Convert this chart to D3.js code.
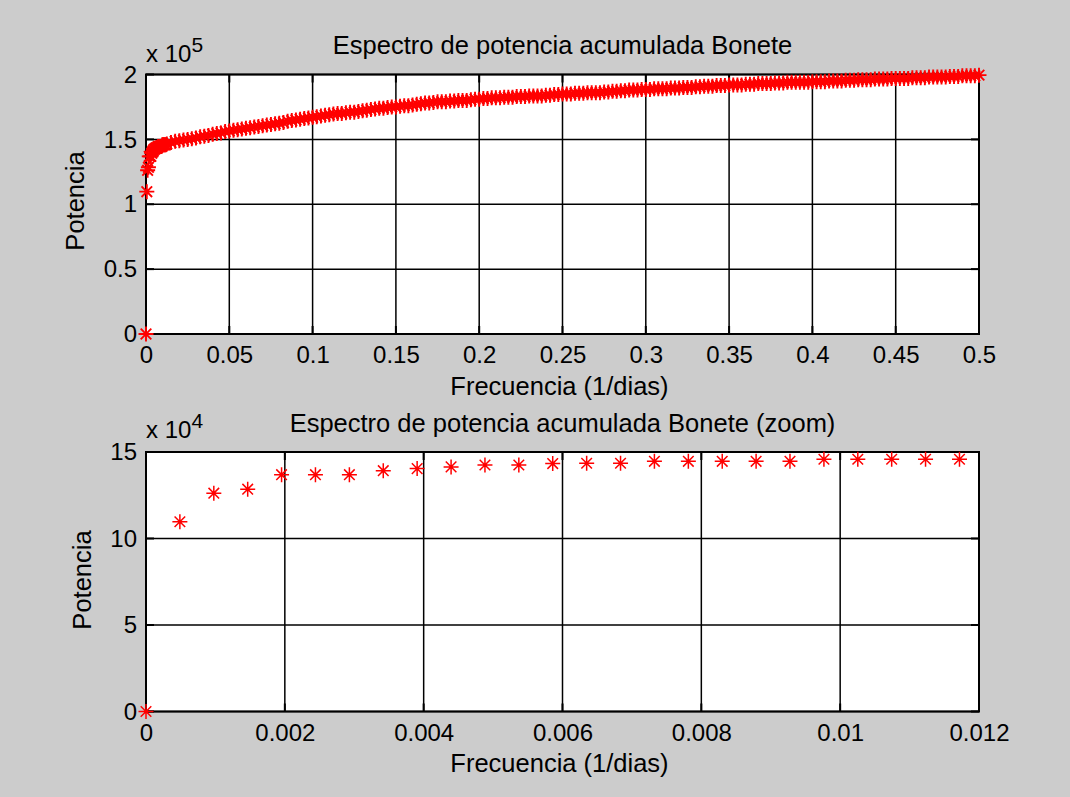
<!DOCTYPE html>
<html><head><meta charset="utf-8">
<script src="https://cdn.jsdelivr.net/npm/d3@7"></script>
<style>
body{margin:0;background:#cccccc;}
svg{display:block;}
text{font-family:"Liberation Sans",Arial,sans-serif;fill:#000;}
</style>
</head><body>
<svg id="chart" width="1070" height="797"></svg>
<script>
// ---------- DATA ----------
// Low-frequency samples (shown in zoom panel and at the start of the top panel)
const zoomFreq = [0, 0.000488, 0.000977, 0.001465, 0.001953, 0.002441, 0.00293, 0.003418, 0.003906,
  0.004395, 0.004883, 0.005371, 0.005859, 0.006348, 0.006836, 0.007324, 0.007813, 0.008301,
  0.008789, 0.009277, 0.009766, 0.010254, 0.010742, 0.01123, 0.011719];
const zoomPower = [0, 109700, 126200, 128500, 136900, 136900, 136900, 139200, 140400,
  141400, 142500, 142500, 143300, 143500, 143500, 144600, 144600, 144600,
  144600, 144600, 145800, 145800, 145800, 145800, 145800];

// Remaining samples of the top panel
const topFreq = [
  0.0125,0.015,0.0175,0.02,0.0225,0.025,0.0275,0.03,0.0325,0.035,
  0.0375,0.04,0.0425,0.045,0.0475,0.05,0.0525,0.055,0.0575,0.06,
  0.0625,0.065,0.0675,0.07,0.0725,0.075,0.0775,0.08,0.0825,0.085,
  0.0875,0.09,0.0925,0.095,0.0975,0.1,0.1025,0.105,0.1075,0.11,
  0.1125,0.115,0.1175,0.12,0.1225,0.125,0.1275,0.13,0.1325,0.135,
  0.1375,0.14,0.1425,0.145,0.1475,0.15,0.1525,0.155,0.1575,0.16,
  0.1625,0.165,0.1675,0.17,0.1725,0.175,0.1775,0.18,0.1825,0.185,
  0.1875,0.19,0.1925,0.195,0.1975,0.2,0.2025,0.205,0.2075,0.21,
  0.2125,0.215,0.2175,0.22,0.2225,0.225,0.2275,0.23,0.2325,0.235,
  0.2375,0.24,0.2425,0.245,0.2475,0.25,0.2525,0.255,0.2575,0.26,
  0.2625,0.265,0.2675,0.27,0.2725,0.275,0.2775,0.28,0.2825,0.285,
  0.2875,0.29,0.2925,0.295,0.2975,0.3,0.3025,0.305,0.3075,0.31,
  0.3125,0.315,0.3175,0.32,0.3225,0.325,0.3275,0.33,0.3325,0.335,
  0.3375,0.34,0.3425,0.345,0.3475,0.35,0.3525,0.355,0.3575,0.36,
  0.3625,0.365,0.3675,0.37,0.3725,0.375,0.3775,0.38,0.3825,0.385,
  0.3875,0.39,0.3925,0.395,0.3975,0.4,0.4025,0.405,0.4075,0.41,
  0.4125,0.415,0.4175,0.42,0.4225,0.425,0.4275,0.43,0.4325,0.435,
  0.4375,0.44,0.4425,0.445,0.4475,0.45,0.4525,0.455,0.4575,0.46,
  0.4625,0.465,0.4675,0.47,0.4725,0.475,0.4775,0.48,0.4825,0.485,
  0.4875,0.49,0.4925,0.495,0.4975,0.5];
const topPower = [
  1.465e5,1.475e5,1.485e5,1.49e5,1.495e5,1.50e5,1.505e5,1.51e5,1.52e5,1.525e5,
  1.53e5,1.54e5,1.545e5,1.55e5,1.56e5,1.565e5,1.57e5,1.575e5,1.58e5,1.585e5,
  1.59e5,1.595e5,1.60e5,1.605e5,1.61e5,1.615e5,1.62e5,1.625e5,1.63e5,1.64e5,
  1.645e5,1.65e5,1.655e5,1.66e5,1.665e5,1.67e5,1.675e5,1.68e5,1.685e5,1.69e5,
  1.695e5,1.70e5,1.70e5,1.705e5,1.71e5,1.71e5,1.715e5,1.72e5,1.725e5,1.73e5,
  1.735e5,1.74e5,1.74e5,1.745e5,1.75e5,1.75e5,1.755e5,1.76e5,1.76e5,1.765e5,
  1.77e5,1.775e5,1.78e5,1.78e5,1.785e5,1.79e5,1.79e5,1.79e5,1.795e5,1.795e5,
  1.80e5,1.80e5,1.80e5,1.805e5,1.81e5,1.81e5,1.815e5,1.815e5,1.82e5,1.82e5,
  1.82e5,1.825e5,1.825e5,1.825e5,1.83e5,1.83e5,1.83e5,1.835e5,1.835e5,1.835e5,
  1.835e5,1.84e5,1.84e5,1.845e5,1.845e5,1.85e5,1.85e5,1.85e5,1.855e5,1.855e5,
  1.855e5,1.86e5,1.86e5,1.86e5,1.86e5,1.865e5,1.865e5,1.87e5,1.87e5,1.875e5,
  1.875e5,1.88e5,1.88e5,1.88e5,1.885e5,1.885e5,1.885e5,1.89e5,1.89e5,1.89e5,
  1.89e5,1.895e5,1.895e5,1.895e5,1.90e5,1.90e5,1.90e5,1.905e5,1.905e5,1.91e5,
  1.91e5,1.91e5,1.915e5,1.915e5,1.915e5,1.92e5,1.92e5,1.92e5,1.92e5,1.925e5,
  1.925e5,1.925e5,1.93e5,1.93e5,1.93e5,1.93e5,1.935e5,1.935e5,1.935e5,1.94e5,
  1.94e5,1.94e5,1.94e5,1.94e5,1.94e5,1.945e5,1.945e5,1.945e5,1.945e5,1.95e5,
  1.95e5,1.95e5,1.95e5,1.955e5,1.955e5,1.955e5,1.96e5,1.96e5,1.96e5,1.96e5,
  1.965e5,1.965e5,1.965e5,1.965e5,1.97e5,1.97e5,1.97e5,1.97e5,1.97e5,1.975e5,
  1.975e5,1.975e5,1.975e5,1.98e5,1.98e5,1.98e5,1.98e5,1.98e5,1.985e5,1.985e5,
  1.985e5,1.99e5,1.99e5,1.99e5,1.99e5,1.995e5];

// Tick values and labels
const topXTicks = [0,0.05,0.1,0.15,0.2,0.25,0.3,0.35,0.4,0.45,0.5];
const topXLabels = ["0","0.05","0.1","0.15","0.2","0.25","0.3","0.35","0.4","0.45","0.5"];
const topYTicks = [0,50000,100000,150000,200000];
const topYLabels = ["0","0.5","1","1.5","2"];
const botXTicks = [0,0.002,0.004,0.006,0.008,0.01,0.012];
const botXLabels = ["0","0.002","0.004","0.006","0.008","0.01","0.012"];
const botYTicks = [0,50000,100000,150000];
const botYLabels = ["0","5","10","15"];

const titles = ["Espectro de potencia acumulada Bonete", "Espectro de potencia acumulada Bonete (zoom)"];
const xLabelText = "Frecuencia (1/dias)";
const yLabelText = "Potencia";

// ---------- DRAW ----------
const svg = d3.select("#chart");
svg.append("rect").attr("width",1070).attr("height",797).attr("fill","#cccccc");

const FS = 24;     // tick labels
const FL = 25.5;   // titles and axis labels
const starPath = "M-7.5,0H7.5M0,-7.5V7.5M-5.3,-5.3L5.3,5.3M-5.3,5.3L5.3,-5.3";

function panel(cfg){
  const {left,right,top,bottom,xDomain,yDomain,xTicks,xLabels,yTicks,yLabels,
         pts,title,titleY,expo,expoBaseY,xlabY,ylabX,ylabY,markW} = cfg;
  const x = d3.scaleLinear().domain(xDomain).range([left,right]);
  const y = d3.scaleLinear().domain(yDomain).range([bottom,top]);
  const g = svg.append("g");
  g.append("rect").attr("x",left).attr("y",top).attr("width",right-left).attr("height",bottom-top)
    .attr("fill","#fff");
  // grid
  g.selectAll(".gx").data(xTicks).join("line")
    .attr("x1",d=>x(d)).attr("x2",d=>x(d)).attr("y1",top).attr("y2",bottom)
    .attr("stroke","#000").attr("stroke-width",1.5);
  g.selectAll(".gy").data(yTicks).join("line")
    .attr("x1",left).attr("x2",right).attr("y1",d=>y(d)).attr("y2",d=>y(d))
    .attr("stroke","#000").attr("stroke-width",1.5);
  // inward ticks on all sides
  const tl = 8;
  g.selectAll(".tb").data(xTicks).join("line")
    .attr("x1",d=>x(d)).attr("x2",d=>x(d)).attr("y1",bottom).attr("y2",bottom-tl)
    .attr("stroke","#000").attr("stroke-width",2);
  g.selectAll(".tt").data(xTicks).join("line")
    .attr("x1",d=>x(d)).attr("x2",d=>x(d)).attr("y1",top).attr("y2",top+tl)
    .attr("stroke","#000").attr("stroke-width",2);
  g.selectAll(".tl").data(yTicks).join("line")
    .attr("x1",left).attr("x2",left+tl).attr("y1",d=>y(d)).attr("y2",d=>y(d))
    .attr("stroke","#000").attr("stroke-width",2);
  g.selectAll(".tr").data(yTicks).join("line")
    .attr("x1",right).attr("x2",right-tl).attr("y1",d=>y(d)).attr("y2",d=>y(d))
    .attr("stroke","#000").attr("stroke-width",2);
  // box
  g.append("rect").attr("x",left).attr("y",top).attr("width",right-left).attr("height",bottom-top)
    .attr("fill","none").attr("stroke","#000").attr("stroke-width",2);
  // axes labels via d3 axes
  const xa = d3.axisBottom(x).tickValues(xTicks).tickFormat((d,i)=>xLabels[i]).tickSize(0).tickPadding(12);
  const xg = g.append("g").attr("transform",`translate(0,${bottom})`).call(xa);
  xg.select(".domain").remove();
  xg.selectAll("text").attr("font-size",FS).attr("font-family",'"Liberation Sans",Arial,sans-serif').attr("fill","#000");
  const ya = d3.axisLeft(y).tickValues(yTicks).tickFormat((d,i)=>yLabels[i]).tickSize(0).tickPadding(9);
  const yg = g.append("g").attr("transform",`translate(${left},0)`).call(ya);
  yg.select(".domain").remove();
  yg.selectAll("text").attr("font-size",FS).attr("font-family",'"Liberation Sans",Arial,sans-serif').attr("fill","#000");
  // data markers
  g.selectAll(".pt").data(pts).join("path")
    .attr("transform",d=>`translate(${x(d[0])},${y(d[1])})`)
    .attr("d",starPath).attr("fill","none").attr("stroke","#ff0000").attr("stroke-width",markW);
  // title
  g.append("text").attr("x",(left+right)/2).attr("y",titleY).attr("text-anchor","middle")
    .attr("font-size",FL).text(title);
  // exponent
  const ex = g.append("text").attr("x",left).attr("y",expoBaseY).attr("font-size",FS);
  ex.append("tspan").text("x 10");
  ex.append("tspan").attr("dy",-10).attr("font-size",21).text(expo);
  // x label
  g.append("text").attr("x",(left+right)/2 - 3).attr("y",xlabY).attr("text-anchor","middle")
    .attr("font-size",FL).text(xLabelText);
  // y label
  g.append("text").attr("transform",`translate(${ylabX},${ylabY}) rotate(-90)`)
    .attr("text-anchor","middle").attr("font-size",FL).text(yLabelText);
}

const topPts = zoomFreq.map((f,i)=>[f,zoomPower[i]]).concat(topFreq.map((f,i)=>[f,topPower[i]]));
const botPts = zoomFreq.map((f,i)=>[f,zoomPower[i]]);

panel({left:146,right:979,top:74.5,bottom:334,xDomain:[0,0.5],yDomain:[0,200000],
  xTicks:topXTicks,xLabels:topXLabels,yTicks:topYTicks,yLabels:topYLabels,
  pts:topPts,title:titles[0],titleY:54,expo:"5",expoBaseY:62,xlabY:395,ylabX:84,ylabY:201,markW:1.9});
panel({left:146,right:979,top:452,bottom:711.5,xDomain:[0,0.012],yDomain:[0,150000],
  xTicks:botXTicks,xLabels:botXLabels,yTicks:botYTicks,yLabels:botYLabels,
  pts:botPts,title:titles[1],titleY:432,expo:"4",expoBaseY:438,xlabY:772,ylabX:91,ylabY:580,markW:1.5});
</script>
</body></html>
